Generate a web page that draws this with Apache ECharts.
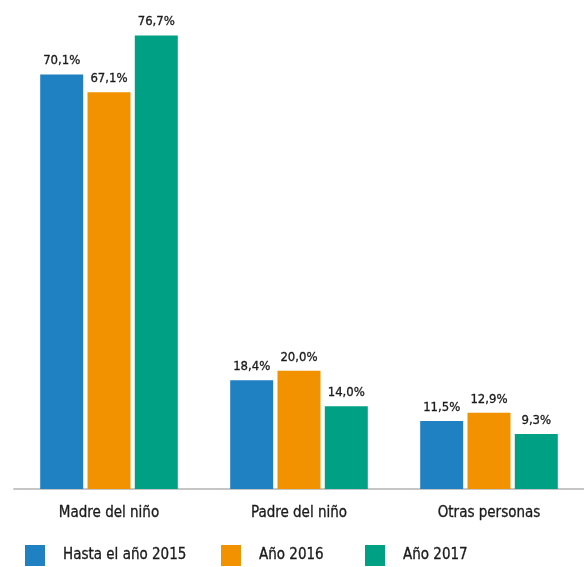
<!DOCTYPE html>
<html><head><meta charset="utf-8">
<script src="https://cdn.jsdelivr.net/npm/echarts@6/dist/echarts.min.js"></script>
<style>html,body{margin:0;padding:0;background:#fff}#c{width:584px;height:567px}</style>
</head><body><div id="c"></div>
<script>
const categories = ['Madre del niño', 'Padre del niño', 'Otras personas'];
const seriesNames = ['Hasta el año 2015', 'Año 2016', 'Año 2017'];
const hasta2015 = [70.1, 18.4, 11.5];
const ano2016 = [67.1, 20.0, 12.9];
const ano2017 = [76.7, 14.0, 9.3];
const colors = ['#1f80c2', '#f39200', '#00a084'];
const FONT = '"Liberation Sans Narrow", "DejaVu Sans Condensed", sans-serif';
const TXT = '#1a1a1a';
const values = [hasta2015, ano2016, ano2017];
const chart = echarts.init(document.getElementById('c'));
const legendLefts = [25, 221, 365];
chart.setOption({
  animation: false,
  textStyle: {fontFamily: FONT},
  grid: {left: 14, right: 0, top: 16, bottom: 78},
  legend: seriesNames.map((n, i) => ({
    data: [n], left: legendLefts[i], top: 545, padding: 0, icon: 'rect', itemWidth: 20, itemHeight: 21,
    itemGap: 0,
    textStyle: {fontFamily: FONT, fontSize: 15, color: TXT, padding: [0, 0, 0, 13],
      textBorderColor: TXT, textBorderWidth: 0.3}
  })),
  xAxis: {
    type: 'category', data: categories,
    axisLine: {lineStyle: {color: '#c6c6c6', width: 2}},
    axisTick: {show: false},
    axisLabel: {fontFamily: FONT, fontSize: 15, color: TXT, margin: 17,
      textBorderColor: TXT, textBorderWidth: 0.3}
  },
  yAxis: {type: 'value', min: 0, max: 80, show: false, splitLine: {show: false}},
  series: seriesNames.map((n, i) => ({
    name: n, type: 'bar', data: values[i], barWidth: 43, barGap: '10%',
    itemStyle: {color: colors[i]},
    label: {show: true, position: 'top', distance: 7, fontFamily: FONT, fontSize: 13, color: TXT,
      textBorderColor: TXT, textBorderWidth: 0.3,
      formatter: p => p.value.toFixed(1).replace('.', ',') + '%'}
  }))
});
</script></body></html>
